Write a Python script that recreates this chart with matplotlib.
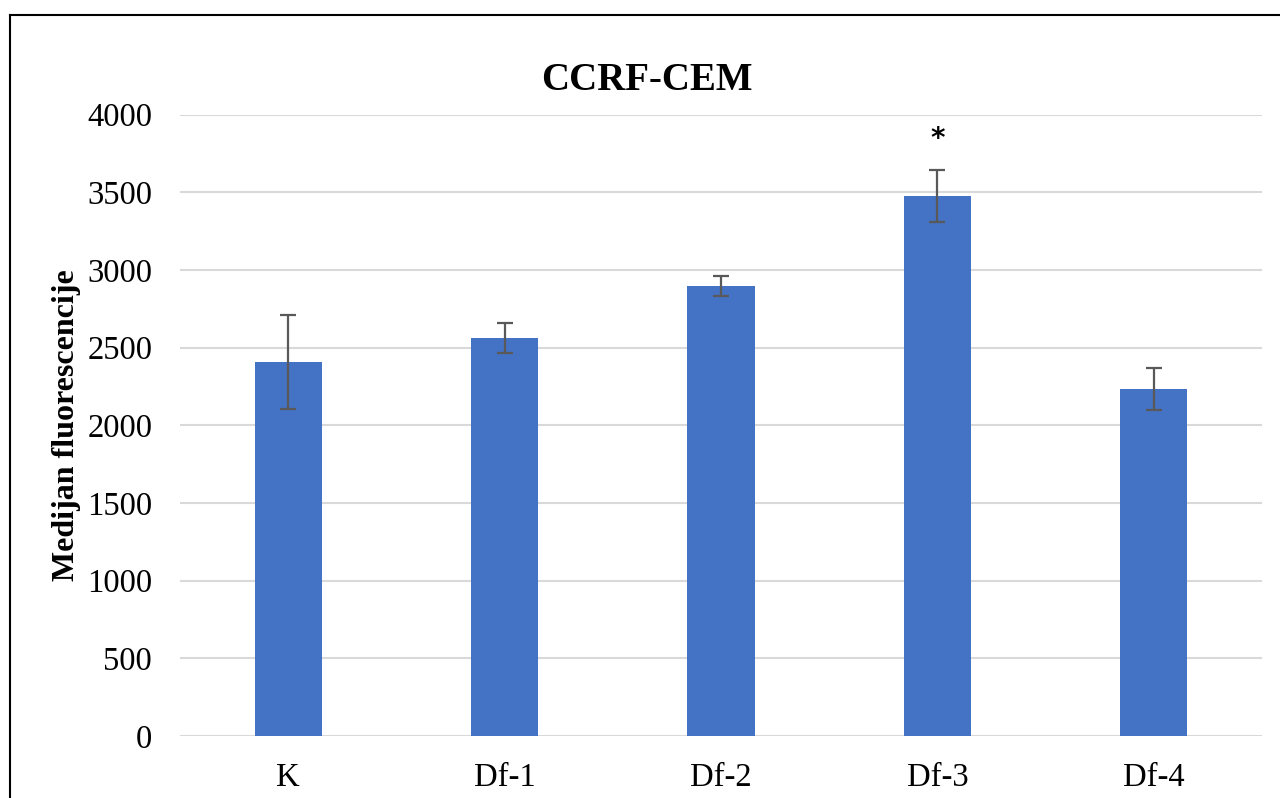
import matplotlib.pyplot as plt
from matplotlib.lines import Line2D

# data
categories = ['K', 'Df-1', 'Df-2', 'Df-3', 'Df-4']
medians = [2407, 2562, 2896, 3475, 2233]
errors = [300, 97, 62, 167, 135]
significant = [False, False, False, True, False]

plt.rcParams['font.family'] = ['Liberation Serif', 'DejaVu Serif']

fig = plt.figure(figsize=(12.8, 7.98), dpi=100)
ax = fig.add_axes([0.1406, 0.0777, 0.8454, 0.7788])

x = range(len(categories))
ax.bar(x, medians, width=0.31, color='#4472c4', zorder=3)
ax.errorbar(x, medians, yerr=errors, fmt='none', ecolor='#595959',
            elinewidth=1.6, capsize=6, capthick=1.6, zorder=4)

for i, s in enumerate(significant):
    if s:
        ax.text(i, medians[i] + errors[i] + 110, '*', ha='center', va='bottom',
                fontsize=20, fontweight='bold', family='DejaVu Sans')

ax.set_xlim(-0.5, len(categories) - 0.5)
ax.set_ylim(0, 4000)
ax.set_yticks(range(0, 4001, 500))
ax.set_xticks(list(x))
ax.set_xticklabels(categories)
ax.yaxis.grid(True, color='#d9d9d9', linewidth=1.5, zorder=0)
ax.tick_params(axis='both', length=0, labelsize=23.5)
ax.tick_params(axis='y', pad=20)
ax.tick_params(axis='x', pad=19)
for sp in ax.spines.values():
    sp.set_visible(False)

fig.text(67/1280, 1 - 425/798, 'Medijan fluorescencije', ha='center', va='center',
         rotation=90, fontsize=23, fontweight='bold')
fig.text(647/1280, 1 - 80/798, 'CCRF-CEM', ha='center', va='center',
         fontsize=28, fontweight='bold')

# outer chart frame (cropped at right and bottom)
fig.add_artist(Line2D([10/1280, 10/1280], [0, 1 - 15/798], transform=fig.transFigure,
                      color='black', linewidth=1.5))
fig.add_artist(Line2D([10/1280, 1], [1 - 15/798, 1 - 15/798], transform=fig.transFigure,
                      color='black', linewidth=1.5))

fig.savefig('out.png', dpi=100)
